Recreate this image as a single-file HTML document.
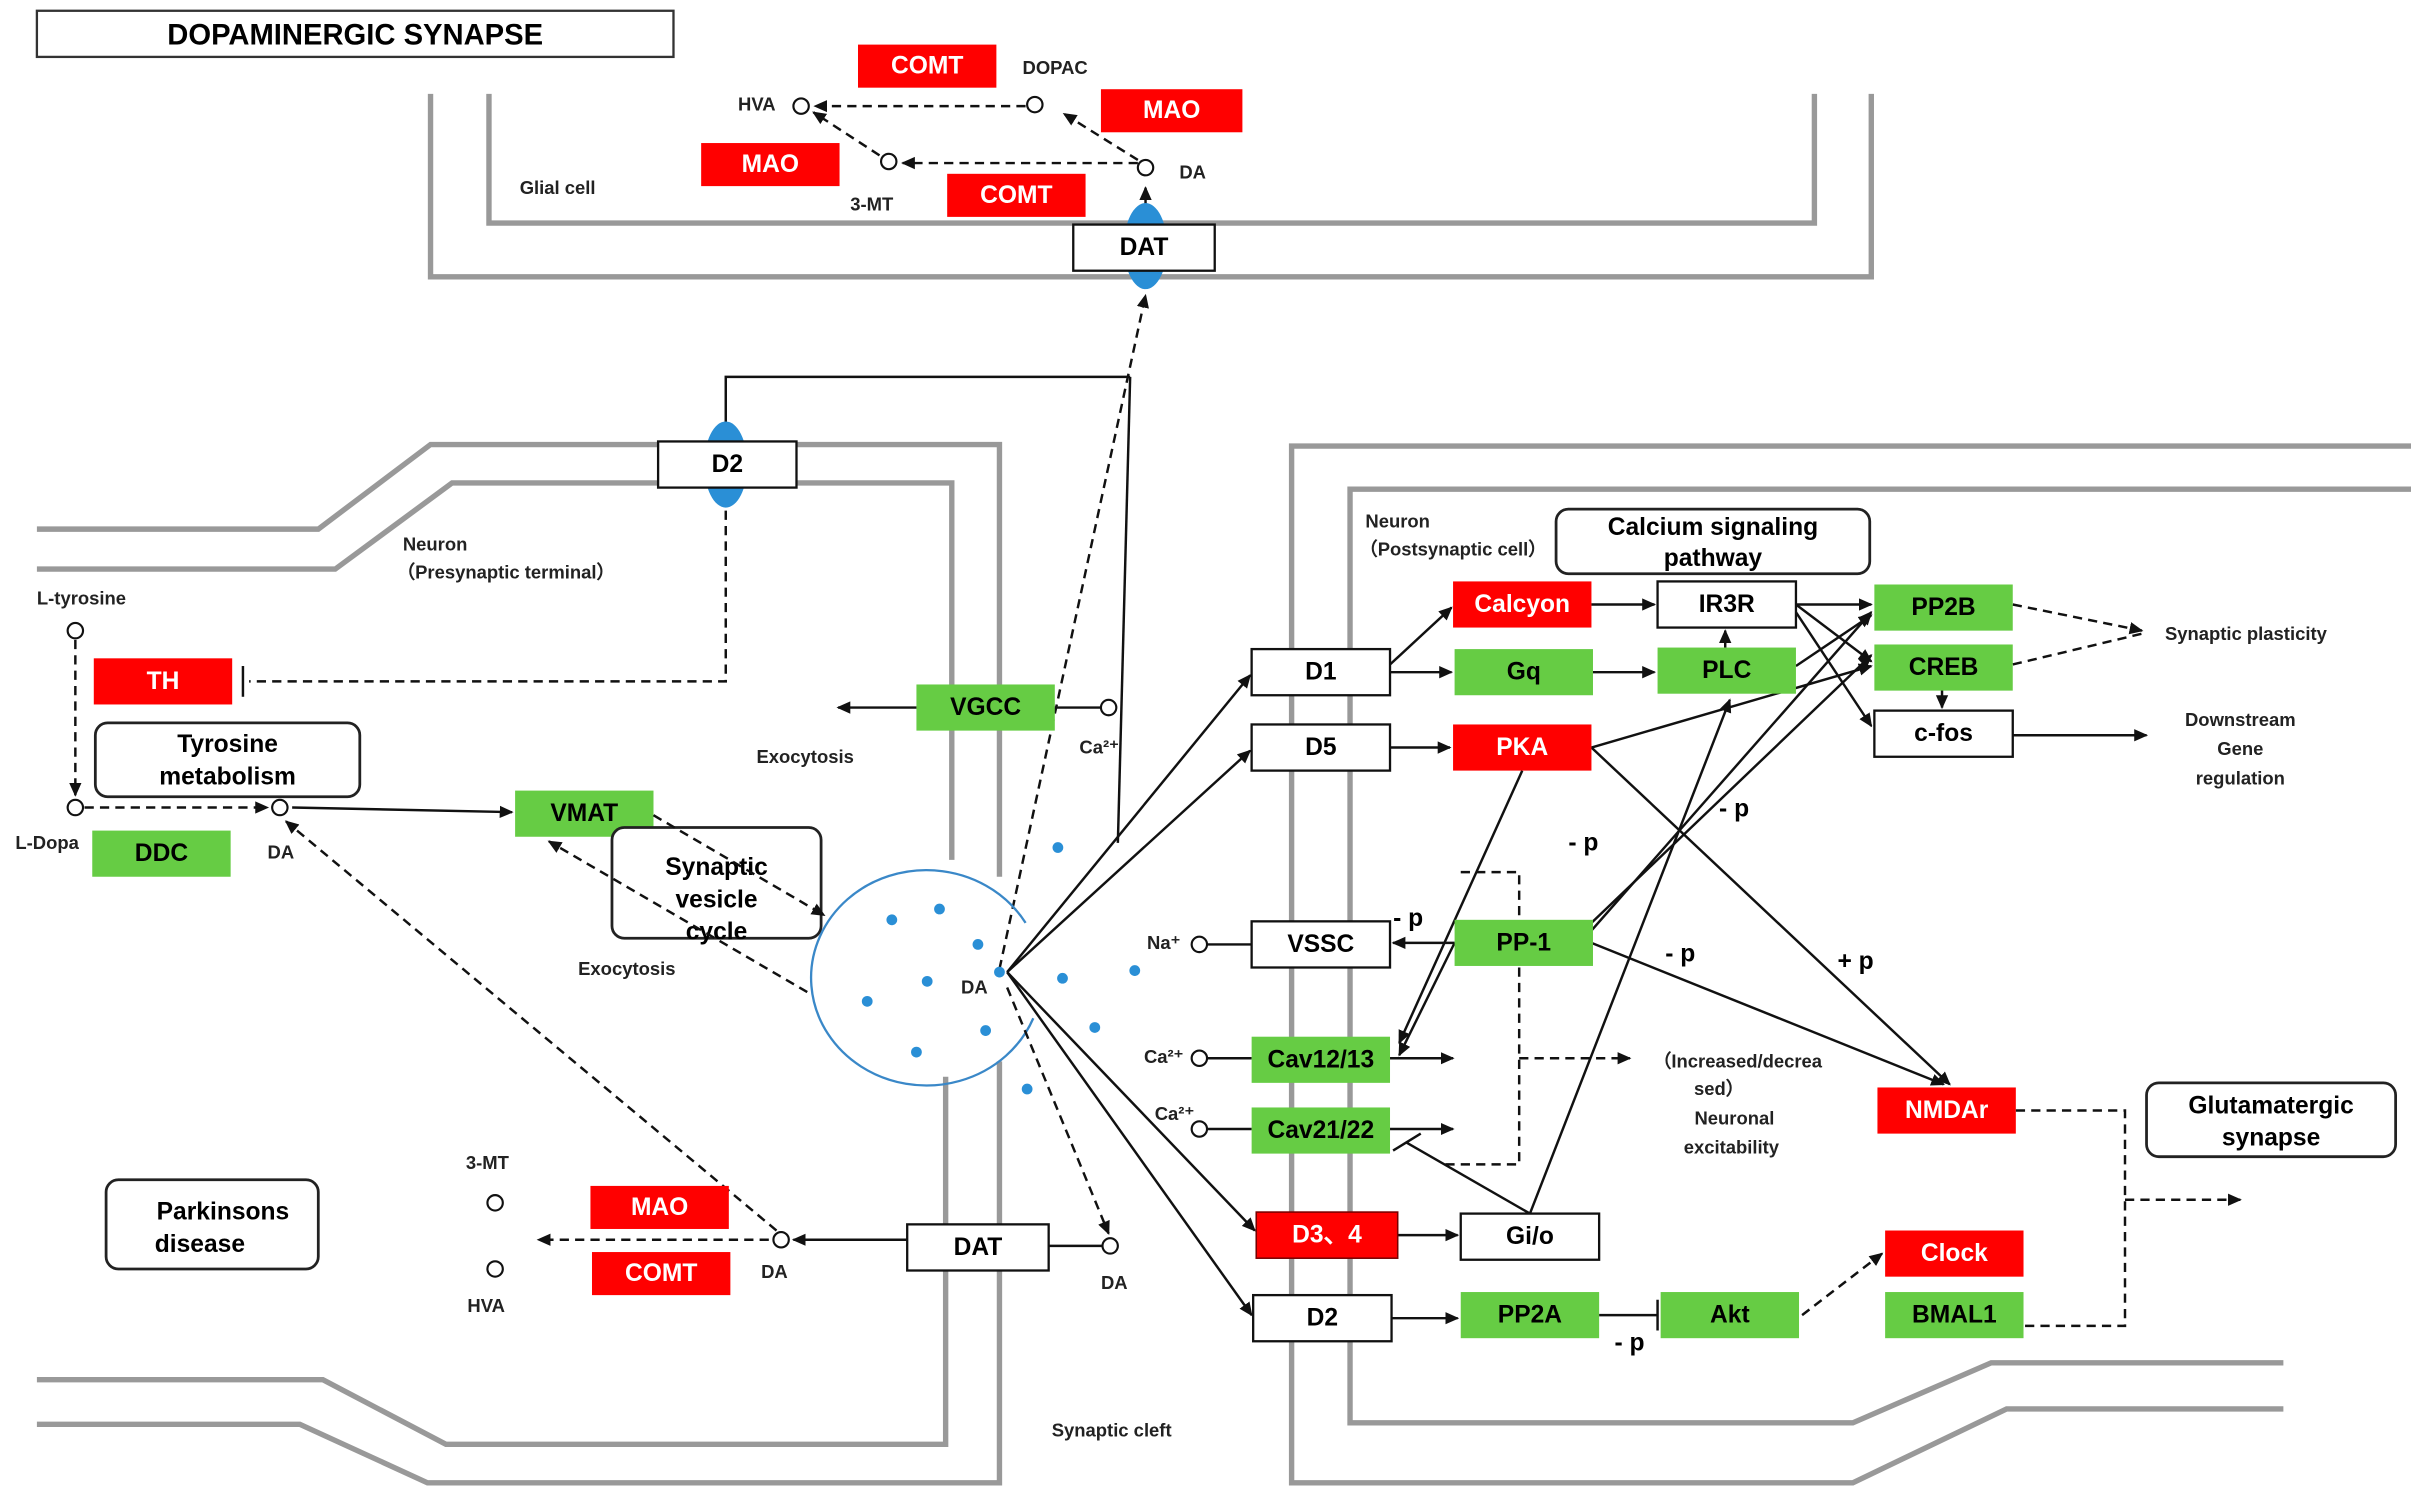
<!DOCTYPE html>
<html><head><meta charset="utf-8"><style>
html,body{margin:0;padding:0;background:#fff}
svg{display:block}
text{font-family:"Liberation Sans",sans-serif}
.b{font-size:16px;font-weight:bold;text-anchor:middle;dominant-baseline:central}
.s{font-size:12px;font-weight:bold;fill:#222}
.m{stroke:#999;stroke-width:3.5;fill:none}
.l{stroke:#111;stroke-width:1.6;fill:none}
.d{stroke:#111;stroke-width:1.6;fill:none;stroke-dasharray:6,4}
</style></head><body>
<svg width="2411" height="1492" viewBox="0 0 1568 970" preserveAspectRatio="none" xmlns="http://www.w3.org/2000/svg">
<defs><marker id="a" markerWidth="10" markerHeight="10" refX="8" refY="5" orient="auto" markerUnits="userSpaceOnUse"><path d="M0,1 L9,5 L0,9 z" fill="#111"/></marker></defs>
<!-- membranes -->
<path class="m" d="M280,61 V180 H1217 V61"/>
<path class="m" d="M318,61 V145 H1180 V61"/>
<path class="m" d="M24,344 H207 L280,289 H650 V570"/>
<path class="m" d="M24,370 H218 L294,314 H619 V559"/>
<path class="m" d="M650,690 V964 H278 L195,926 H24"/>
<path class="m" d="M615,700 V939 H290 L210,897 H24"/>
<path class="m" d="M1568,290 H840 V964 H1205 L1305,916 H1485"/>
<path class="m" d="M1568,318 H878 V925 H1205 L1295,886 H1485"/>
<!-- title -->
<rect x="24" y="7" width="414" height="30" fill="#fff" stroke="#333" stroke-width="1.5"/>
<text x="231" y="23" class="b" style="font-size:19px">DOPAMINERGIC SYNAPSE</text>
<!-- glial -->
<g fill="#f00"><rect x="558" y="29" width="90" height="28"/><rect x="716" y="58" width="92" height="28"/><rect x="456" y="93" width="90" height="28"/><rect x="616" y="113" width="90" height="28"/></g>
<g fill="#fff"><text x="603" y="43" class="b">COMT</text><text x="762" y="72" class="b">MAO</text><text x="501" y="107" class="b">MAO</text><text x="661" y="127" class="b">COMT</text></g>
<path class="d" d="M667,69 H530" marker-end="url(#a)"/>
<path class="d" d="M740,106 H587" marker-end="url(#a)"/>
<path class="d" d="M740,104 L692,74" marker-end="url(#a)"/>
<path class="d" d="M572,101 L529,73" marker-end="url(#a)"/>
<path class="l" d="M745,146 V122" marker-end="url(#a)"/>
<ellipse cx="745" cy="160" rx="14" ry="28" fill="#2a8fd6"/>
<g fill="#fff" stroke="#111" stroke-width="1.4"><circle cx="521" cy="69" r="5"/><circle cx="673" cy="68" r="5"/><circle cx="578" cy="105" r="5"/><circle cx="745" cy="109" r="5"/></g>
<text x="665" y="48" class="s">DOPAC</text><text x="480" y="72" class="s">HVA</text><text x="553" y="137" class="s">3-MT</text><text x="767" y="116" class="s">DA</text><text x="338" y="126" class="s">Glial cell</text>
<rect x="698" y="146" width="92" height="30" fill="#fff" stroke="#111" stroke-width="1.5"/><text x="744" y="161" class="b">DAT</text>
<!-- presynaptic -->
<path class="l" d="M735,245 H472 V285" marker-end="url(#a)"/>
<path class="l" d="M735,245 L727,548"/>
<ellipse cx="472" cy="302" rx="14" ry="28" fill="#2a8fd6"/>
<rect x="428" y="287" width="90" height="30" fill="#fff" stroke="#111" stroke-width="1.5"/><text x="473" y="302" class="b">D2</text>
<path class="d" d="M472,332 V443 H162"/><path class="l" d="M158,433 V453"/>
<path class="d" d="M650,630 L745,192" marker-end="url(#a)"/>
<text x="262" y="358" class="s">Neuron</text><text x="258" y="376" class="s">（Presynaptic terminal）</text>
<text x="24" y="393" class="s">L-tyrosine</text><text x="10" y="552" class="s">L-Dopa</text><text x="174" y="558" class="s">DA</text>
<rect x="61" y="428" width="90" height="30" fill="#f00"/><text x="106" y="443" class="b" fill="#fff">TH</text>
<rect x="60" y="540" width="90" height="30" fill="#66cc44"/><text x="105" y="555" class="b">DDC</text>
<path class="d" d="M49,416 V517" marker-end="url(#a)"/>
<path class="d" d="M55,525 H174" marker-end="url(#a)"/>
<path class="l" d="M190,525 L333,528" marker-end="url(#a)"/>
<path class="d" d="M505,800 L186,534" marker-end="url(#a)"/>
<g fill="#fff" stroke="#111" stroke-width="1.4"><circle cx="49" cy="410" r="5"/><circle cx="49" cy="525" r="5"/><circle cx="182" cy="525" r="5"/></g>
<rect x="62" y="470" width="172" height="48" rx="8" fill="#fff" stroke="#222" stroke-width="1.8"/>
<text x="148" y="484" class="b">Tyrosine</text><text x="148" y="505" class="b">metabolism</text>
<rect x="335" y="514" width="90" height="30" fill="#66cc44"/><text x="380" y="529" class="b">VMAT</text>
<rect x="398" y="538" width="136" height="72" rx="8" fill="#fff" stroke="#222" stroke-width="1.8"/>
<text x="466" y="564" class="b">Synaptic</text><text x="466" y="585" class="b">vesicle</text><text x="466" y="606" class="b">cycle</text>
<path class="d" d="M425,530 L536,595" marker-end="url(#a)"/>
<path class="d" d="M525,645 L357,547" marker-end="url(#a)"/>
<text x="492" y="496" class="s">Exocytosis</text><text x="376" y="634" class="s">Exocytosis</text>
<rect x="596" y="445" width="90" height="30" fill="#66cc44"/><text x="641" y="460" class="b">VGCC</text>
<path class="l" d="M596,460 H545" marker-end="url(#a)"/><path class="l" d="M686,460 H716"/>
<circle cx="721" cy="460" r="5" fill="#fff" stroke="#111" stroke-width="1.4"/><text x="702" y="490" class="s">Ca²⁺</text>
<!-- vesicle -->
<path d="M667,600 A75,70 0 1 0 672,662" fill="none" stroke="#3a88c8" stroke-width="1.5"/>
<g fill="#2a8fd6"><circle cx="580" cy="598" r="3.5"/><circle cx="611" cy="591" r="3.5"/><circle cx="636" cy="614" r="3.5"/><circle cx="603" cy="638" r="3.5"/><circle cx="564" cy="651" r="3.5"/><circle cx="641" cy="670" r="3.5"/><circle cx="596" cy="684" r="3.5"/><circle cx="668" cy="708" r="3.5"/><circle cx="712" cy="668" r="3.5"/><circle cx="691" cy="636" r="3.5"/><circle cx="738" cy="631" r="3.5"/><circle cx="688" cy="551" r="3.5"/><circle cx="650" cy="632" r="3.5"/></g>
<text x="625" y="646" class="s">DA</text>
<!-- bottom presyn -->
<rect x="590" y="796" width="92" height="30" fill="#fff" stroke="#111" stroke-width="1.5"/><text x="636" y="811" class="b">DAT</text>
<path class="l" d="M590,806 H516" marker-end="url(#a)"/>
<path class="d" d="M500,806 H350" marker-end="url(#a)"/>
<path class="l" d="M682,810 H717"/>
<path class="d" d="M655,642 L721,802" marker-end="url(#a)"/>
<g fill="#fff" stroke="#111" stroke-width="1.4"><circle cx="508" cy="806" r="5"/><circle cx="722" cy="810" r="5"/><circle cx="322" cy="782" r="5"/><circle cx="322" cy="825" r="5"/></g>
<rect x="384" y="771" width="90" height="28" fill="#f00"/><text x="429" y="785" class="b" fill="#fff">MAO</text>
<rect x="385" y="814" width="90" height="28" fill="#f00"/><text x="430" y="828" class="b" fill="#fff">COMT</text>
<text x="303" y="760" class="s">3-MT</text><text x="304" y="853" class="s">HVA</text><text x="495" y="831" class="s">DA</text><text x="716" y="838" class="s">DA</text>
<rect x="69" y="767" width="138" height="58" rx="8" fill="#fff" stroke="#222" stroke-width="1.8"/>
<text x="145" y="788" class="b">Parkinsons</text><text x="130" y="809" class="b">disease</text>
<text x="684" y="934" class="s">Synaptic cleft</text>
<!-- postsynaptic arrows -->
<g class="l">
<path d="M655,632 L813,439" marker-end="url(#a)"/><path d="M655,632 L813,488" marker-end="url(#a)"/>
<path d="M655,632 L816,800" marker-end="url(#a)"/><path d="M655,632 L814,855" marker-end="url(#a)"/>
<path d="M904,432 L944,395" marker-end="url(#a)"/><path d="M904,437 H944" marker-end="url(#a)"/><path d="M904,486 H943" marker-end="url(#a)"/>
<path d="M1035,393 H1076" marker-end="url(#a)"/><path d="M1036,437 H1076" marker-end="url(#a)"/><path d="M1122,421 V410" marker-end="url(#a)"/>
<path d="M1168,393 H1217" marker-end="url(#a)"/><path d="M1168,393 L1217,430" marker-end="url(#a)"/><path d="M1168,398 L1217,472" marker-end="url(#a)"/>
<path d="M1168,433 L1217,400" marker-end="url(#a)"/><path d="M1035,486 L1217,433" marker-end="url(#a)"/>
<path d="M1035,486 L1268,705" marker-end="url(#a)"/><path d="M990,501 L910,678" marker-end="url(#a)"/>
<path d="M1035,605 L1217,398" marker-end="url(#a)"/><path d="M1035,600 L1217,426" marker-end="url(#a)"/>
<path d="M1035,613 L1264,705" marker-end="url(#a)"/><path d="M946,613 L910,686" marker-end="url(#a)"/>
<path d="M946,613 H906" marker-end="url(#a)"/>
<path d="M995,789 L1125,455" marker-end="url(#a)"/><path d="M995,789 L915,743"/><path d="M906,748 L924,737"/>
<path d="M909,803 H948" marker-end="url(#a)"/><path d="M905,857 H948" marker-end="url(#a)"/>
<path d="M1040,855 H1078"/><path d="M1078,845 V865"/>
<path d="M1263,448 V460" marker-end="url(#a)"/><path d="M1309,478 H1396" marker-end="url(#a)"/>
<path d="M904,688 H945" marker-end="url(#a)"/><path d="M904,734 H945" marker-end="url(#a)"/>
<path d="M785,614 H814"/><path d="M785,688 H814"/><path d="M785,734 H814"/>
</g>
<g class="d">
<path d="M1309,393 L1393,410" marker-end="url(#a)"/><path d="M1309,432 L1393,412"/>
<path d="M950,567 H988 V757 H940"/><path d="M988,688 H1060" marker-end="url(#a)"/>
<path d="M1172,855 L1224,815" marker-end="url(#a)"/>
<path d="M1311,722 H1382 V862 H1316"/><path d="M1382,780 H1457" marker-end="url(#a)"/>
</g>
<g fill="#fff" stroke="#111" stroke-width="1.4"><circle cx="780" cy="614" r="5"/><circle cx="780" cy="688" r="5"/><circle cx="780" cy="734" r="5"/></g>
<text x="746" y="617" class="s">Na⁺</text><text x="744" y="691" class="s">Ca²⁺</text><text x="751" y="728" class="s">Ca²⁺</text>
<text x="888" y="343" class="s">Neuron</text><text x="884" y="361" class="s">（Postsynaptic cell）</text>
<rect x="1012" y="331" width="204" height="42" rx="8" fill="#fff" stroke="#222" stroke-width="1.8"/>
<text x="1114" y="343" class="b">Calcium signaling</text><text x="1114" y="363" class="b">pathway</text>
<!-- white boxes -->
<g fill="#fff" stroke="#111" stroke-width="1.5">
<rect x="814" y="422" width="90" height="30"/><rect x="814" y="471" width="90" height="30"/><rect x="814" y="599" width="90" height="30"/>
<rect x="815" y="842" width="90" height="30"/><rect x="950" y="789" width="90" height="30"/><rect x="1078" y="378" width="90" height="30"/><rect x="1219" y="462" width="90" height="30"/>
</g>
<g fill="#f00"><rect x="817" y="788" width="92" height="30" stroke="#700" stroke-width="1"/><rect x="945" y="378" width="90" height="30"/><rect x="945" y="471" width="90" height="30"/><rect x="1221" y="707" width="90" height="30"/><rect x="1226" y="800" width="90" height="30"/></g>
<g fill="#66cc44"><rect x="814" y="674" width="90" height="30"/><rect x="814" y="720" width="90" height="30"/><rect x="946" y="422" width="90" height="30"/><rect x="946" y="598" width="90" height="30"/><rect x="1078" y="421" width="90" height="30"/><rect x="1219" y="380" width="90" height="30"/><rect x="1219" y="419" width="90" height="30"/><rect x="950" y="840" width="90" height="30"/><rect x="1080" y="840" width="90" height="30"/><rect x="1226" y="840" width="90" height="30"/></g>
<text x="859" y="437" class="b">D1</text><text x="859" y="486" class="b">D5</text><text x="859" y="614" class="b">VSSC</text><text x="860" y="857" class="b">D2</text><text x="995" y="804" class="b">Gi/o</text><text x="1123" y="393" class="b">IR3R</text><text x="1264" y="477" class="b">c-fos</text>
<g fill="#fff"><text x="863" y="803" class="b">D3、4</text><text x="990" y="393" class="b">Calcyon</text><text x="990" y="486" class="b">PKA</text><text x="1266" y="722" class="b">NMDAr</text><text x="1271" y="815" class="b">Clock</text></g>
<text x="859" y="689" class="b">Cav12/13</text><text x="859" y="735" class="b">Cav21/22</text><text x="991" y="437" class="b">Gq</text><text x="991" y="613" class="b">PP-1</text><text x="1123" y="436" class="b">PLC</text><text x="1264" y="395" class="b">PP2B</text><text x="1264" y="434" class="b">CREB</text><text x="995" y="855" class="b">PP2A</text><text x="1125" y="855" class="b">Akt</text><text x="1271" y="855" class="b">BMAL1</text>
<rect x="1396" y="704" width="162" height="48" rx="8" fill="#fff" stroke="#222" stroke-width="1.8"/>
<text x="1477" y="719" class="b">Glutamatergic</text><text x="1477" y="740" class="b">synapse</text>
<text x="1408" y="416" class="s">Synaptic  plasticity</text>
<g class="s" text-anchor="middle"><text x="1457" y="472">Downstream</text><text x="1457" y="491">Gene</text><text x="1457" y="510">regulation</text>
<text x="1130" y="694">（Increased/decrea</text><text x="1118" y="712">sed）</text><text x="1128" y="731">Neuronal</text><text x="1126" y="750">excitability</text></g>
<g style="font-size:16px;font-weight:bold"><text x="906" y="602">- p</text><text x="1020" y="553">- p</text><text x="1118" y="531">- p</text><text x="1083" y="625">- p</text><text x="1195" y="630">+ p</text><text x="1050" y="878">- p</text></g>
</svg>
</body></html>
